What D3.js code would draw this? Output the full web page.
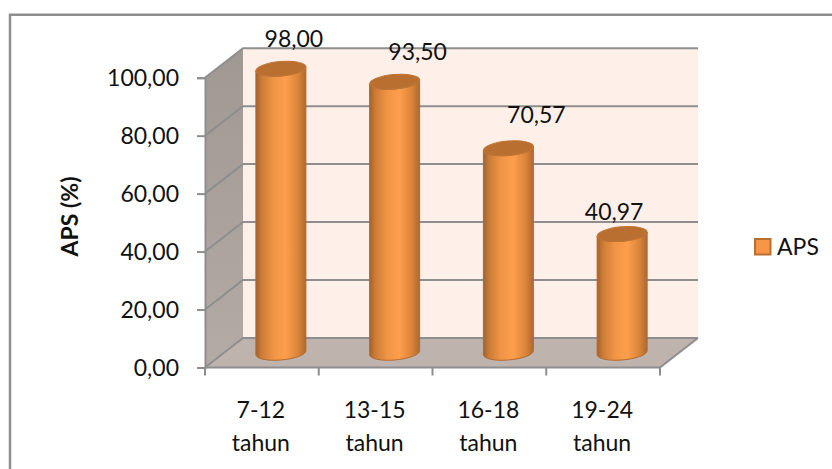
<!DOCTYPE html>
<html>
<head>
<meta charset="utf-8">
<script src="https://cdn.jsdelivr.net/npm/d3@7"></script>
<style>
    html, body { margin: 0; padding: 0; background: #fff; }
    text { font-family: Lato, "Open Sans", sans-serif; fill: #111; }
</style>
</head>
<body>
<div id="chart"></div>
<script>
const categories = ["7-12 tahun", "13-15 tahun", "16-18 tahun", "19-24 tahun"];
const values = [98.00, 93.50, 70.57, 40.97];
const yTicks = [0, 20, 40, 60, 80, 100];
const seriesName = "APS";
const yTitle = "APS (%)";

// hand placed data labels in the original, offset from the bar top centre
const labelNudge = [[13, -22], [23, -22], [28, -25.5], [-8, -14]];

const width = 832, height = 469;
const x0 = 205, x1 = 660, yBase = 367.5, yTop = 77.7;
const depthX = 38, depthY = -29.5;
const barW = 50, rx = 25, ry = 7.2;
const fontSize = "23px";

const fmt = v => v.toFixed(2).replace(".", ",");

const x = d3.scaleBand().domain(categories).range([x0, x1]);
const y = d3.scaleLinear().domain([0, 100]).range([yBase, yTop]);

const svg = d3.select("#chart").append("svg")
    .attr("width", width)
    .attr("height", height)
    .style("display", "block");

const defs = svg.append("defs");
const barGrad = defs.append("linearGradient").attr("id", "barGrad");
[[0, "#a3622a"], [0.12, "#cc7d38"], [0.35, "#f09445"], [0.6, "#fd9e4c"], [0.85, "#d98339"], [1, "#ab6a30"]]
    .forEach(s => barGrad.append("stop").attr("offset", s[0]).attr("stop-color", s[1]));
const wallGrad = defs.append("linearGradient").attr("id", "wallGrad")
    .attr("x1", 0).attr("y1", 0).attr("x2", 0).attr("y2", 1);
wallGrad.append("stop").attr("offset", 0).attr("stop-color", "#a09893");
wallGrad.append("stop").attr("offset", 1).attr("stop-color", "#b4aaa6");

const gridColor = "#8e8e8e";

// chart frame, only top and left are inside the picture
svg.append("path")
    .attr("d", `M10,${height}V14.7H${width}`)
    .attr("fill", "none")
    .attr("stroke", gridColor)
    .attr("stroke-width", 2.5);

// back wall, side wall, floor
svg.append("rect")
    .attr("x", x0 + depthX).attr("y", yTop + depthY)
    .attr("width", x1 - x0).attr("height", yBase - yTop)
    .attr("fill", "#feefe8");
svg.append("polygon")
    .attr("points", [[x0, yBase], [x0 + depthX, yBase + depthY], [x0 + depthX, yTop + depthY], [x0, yTop]].join(" "))
    .attr("fill", "url(#wallGrad)");
svg.append("polygon")
    .attr("points", [[x0, yBase], [x1, yBase], [x1 + depthX, yBase + depthY], [x0 + depthX, yBase + depthY]].join(" "))
    .attr("fill", "#bfb3ae");

// gridlines run along the side wall then the back wall
svg.append("g").selectAll("polyline")
    .data(yTicks)
    .enter()
    .append("polyline")
    .attr("points", d => [[x0, y(d)], [x0 + depthX, y(d) + depthY], [x1 + depthX, y(d) + depthY]].join(" "))
    .attr("fill", "none")
    .attr("stroke", gridColor)
    .attr("stroke-width", 2);
svg.append("line")
    .attr("x1", x1).attr("y1", yBase)
    .attr("x2", x1 + depthX).attr("y2", yBase + depthY)
    .attr("stroke", gridColor).attr("stroke-width", 2);

// axes
const yAxis = svg.append("g")
    .attr("transform", `translate(${x0},0)`)
    .call(d3.axisLeft(y).tickValues(yTicks).tickSize(8).tickPadding(18).tickFormat(fmt));
yAxis.selectAll("text").style("font-size", fontSize).attr("dy", "0.36em");
yAxis.selectAll("path, line")
    .attr("stroke", gridColor).attr("stroke-width", 2);

const xAxis = svg.append("g")
    .attr("transform", `translate(0,${yBase})`);
xAxis.append("line")
    .attr("x1", x0).attr("x2", x1)
    .attr("stroke", gridColor).attr("stroke-width", 2);
xAxis.selectAll(".tick")
    .data(d3.range(categories.length + 1))
    .enter()
    .append("line")
    .attr("class", "tick")
    .attr("x1", i => x0 + i * x.step())
    .attr("x2", i => x0 + i * x.step())
    .attr("y1", 0).attr("y2", 8)
    .attr("stroke", gridColor).attr("stroke-width", 2);

const xLabels = xAxis.selectAll(".cat")
    .data(categories)
    .enter()
    .append("text")
    .attr("class", "cat")
    .attr("text-anchor", "middle")
    .style("font-size", fontSize);
xLabels.append("tspan")
    .attr("x", d => x(d) + x.bandwidth() / 2 - 1)
    .attr("y", 50.5)
    .text(d => d.split(" ")[0]);
xLabels.append("tspan")
    .attr("x", d => x(d) + x.bandwidth() / 2 - 1)
    .attr("y", 83.5)
    .text(d => d.split(" ")[1]);

// axis title
svg.append("text")
    .attr("transform", "translate(78,216.5) rotate(-90)")
    .attr("text-anchor", "middle")
    .style("font-size", fontSize)
    .style("font-weight", "bold")
    .text(yTitle);

// cylinders
const barCx = i => x(categories[i]) + x.bandwidth() / 2 + depthX / 2;
const barY = v => y(v) + depthY / 2;

const bars = svg.append("g").selectAll("g")
    .data(values)
    .enter()
    .append("g");

bars.append("path")
    .attr("d", (d, i) => {
        const c = barCx(i), t = barY(d), b = barY(0);
        const lift = 2;
        return `M${c - barW / 2},${t + lift}L${c - barW / 2},${b + lift}`
            + `A${rx},${ry} -5 0 0 ${c + barW / 2},${b - lift}`
            + `L${c + barW / 2},${t - lift}`
            + `A${rx},${ry} -5 0 1 ${c - barW / 2},${t + lift}Z`;
    })
    .attr("fill", "url(#barGrad)")
    .attr("stroke", "#b5692b")
    .attr("stroke-width", 1);

bars.append("ellipse")
    .attr("cx", 0).attr("cy", 0)
    .attr("rx", rx).attr("ry", ry)
    .attr("transform", (d, i) => `translate(${barCx(i)},${barY(d)}) rotate(-5)`)
    .attr("fill", "#b96f30")
    .attr("stroke", "#c07433")
    .attr("stroke-width", 1);

// data labels
svg.append("g").selectAll("text")
    .data(values)
    .enter()
    .append("text")
    .attr("x", (d, i) => barCx(i) + labelNudge[i][0])
    .attr("y", (d, i) => barY(d) + labelNudge[i][1])
    .attr("text-anchor", "middle")
    .style("font-size", fontSize)
    .text(fmt);

// legend
const legend = svg.append("g").attr("transform", "translate(755,239)");
legend.append("rect")
    .attr("x", 0).attr("y", 0)
    .attr("width", 15.5).attr("height", 15.5)
    .attr("fill", "#f79646")
    .attr("stroke", "#b96f30")
    .attr("stroke-width", 2);
legend.append("text")
    .attr("x", 22).attr("y", 15.5)
    .style("font-size", fontSize)
    .text(seriesName);
</script>
</body>
</html>
